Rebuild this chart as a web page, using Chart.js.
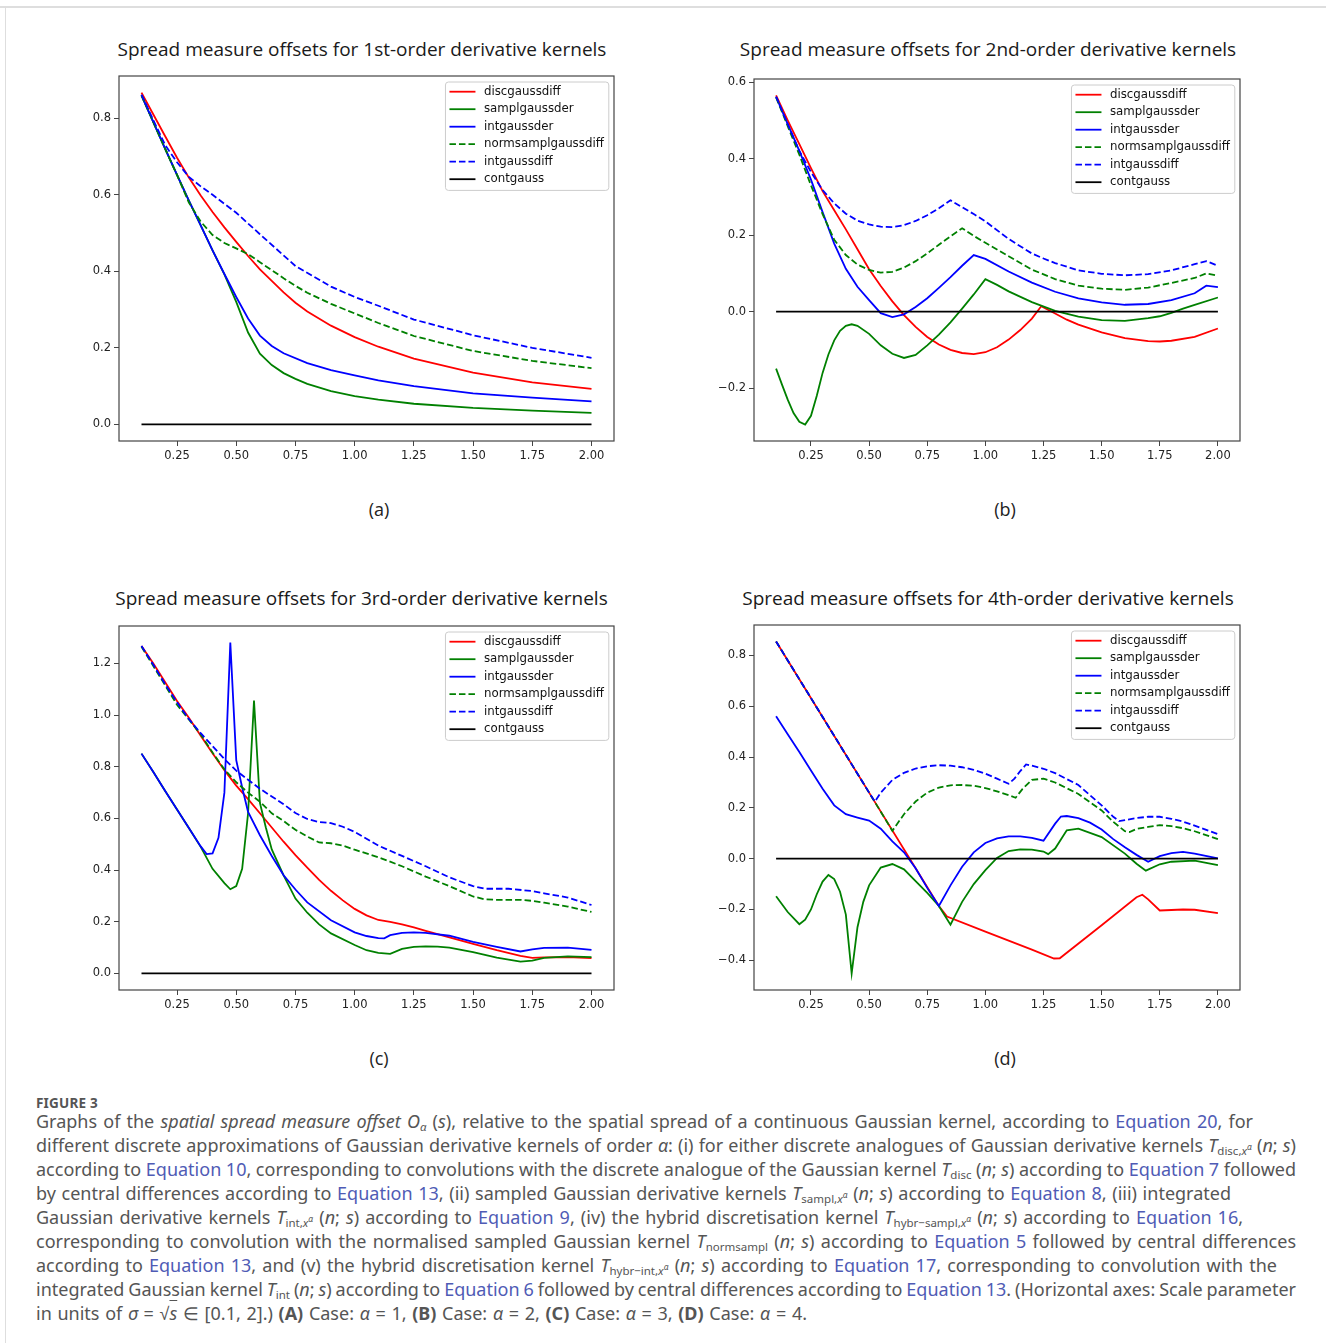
<!DOCTYPE html>
<html>
<head>
<meta charset="utf-8">
<script src="https://cdn.jsdelivr.net/npm/chart.js@4.4.0/dist/chart.umd.min.js"></script>
<style>
  body { margin: 0; background: #fff; width: 1326px; height: 1343px; position: relative; overflow: hidden; font-family: "Noto Sans", sans-serif; }
  .topline { position: absolute; left: 0; top: 6px; width: 1326px; height: 2px; background: #dedede; }
  .leftline { position: absolute; left: 5px; top: 7px; width: 1px; height: 1336px; background: #dedede; }
  canvas { position: absolute; }
  .ptitle { position: absolute; font-family: "Open Sans", sans-serif; font-size: 19px; color: #1a1a1a; white-space: nowrap; transform: translate(-50%, -50%); }
  .panel-label { position: absolute; font-family: "Open Sans", sans-serif; font-size: 18px; color: #222; transform: translate(-50%, -50%); }
  .fig { position: absolute; left: 36px; top: 1094px; font-size: 13.5px; font-weight: 700; color: #555; letter-spacing: 0.2px; }
  .cap { position: absolute; left: 36px; top: 1109px; font-size: 18px; line-height: 24px; color: #555; }
  .cap .ln { white-space: nowrap; height: 24px; }
  .cap a { color: #4f5bb5; text-decoration: none; }
  .cap sub { font-size: 11.5px; vertical-align: -3px; line-height: 0; }
  .cap sup { font-size: 8.5px; vertical-align: 5px; line-height: 0; }
</style>
</head>
<body>
<div class="topline"></div>
<div class="leftline"></div>

<div class="panel-label" style="left:379px; top:509px;">(a)</div>
<div class="panel-label" style="left:1005px; top:509px;">(b)</div>
<div class="panel-label" style="left:379px; top:1058px;">(c)</div>
<div class="panel-label" style="left:1005px; top:1058px;">(d)</div>

<div class="fig">FIGURE 3</div>
<div class="cap">
<div class="ln"><span>Graphs of the <i>spatial spread measure offset</i> <i>O</i><sub><i>α</i></sub> (<i>s</i>), relative to the spatial spread of a continuous Gaussian kernel, according to <a>Equation 20</a>, for</span></div>
<div class="ln"><span>different discrete approximations of Gaussian derivative kernels of order <i>α</i>: (i) for either discrete analogues of Gaussian derivative kernels <i>T</i><sub>disc,<i>x</i><sup><i>α</i></sup></sub> (<i>n</i>; <i>s</i>)</span></div>
<div class="ln"><span>according to <a>Equation 10</a>, corresponding to convolutions with the discrete analogue of the Gaussian kernel <i>T</i><sub>disc</sub> (<i>n</i>; <i>s</i>) according to <a>Equation 7</a> followed</span></div>
<div class="ln"><span>by central differences according to <a>Equation 13</a>, (ii) sampled Gaussian derivative kernels <i>T</i><sub>sampl,<i>x</i><sup><i>α</i></sup></sub> (<i>n</i>; <i>s</i>) according to <a>Equation 8</a>, (iii) integrated</span></div>
<div class="ln"><span>Gaussian derivative kernels <i>T</i><sub>int,<i>x</i><sup><i>α</i></sup></sub> (<i>n</i>; <i>s</i>) according to <a>Equation 9</a>, (iv) the hybrid discretisation kernel <i>T</i><sub>hybr−sampl,<i>x</i><sup><i>α</i></sup></sub> (<i>n</i>; <i>s</i>) according to <a>Equation 16</a>,</span></div>
<div class="ln"><span>corresponding to convolution with the normalised sampled Gaussian kernel <i>T</i><sub>normsampl</sub> (<i>n</i>; <i>s</i>) according to <a>Equation 5</a> followed by central differences</span></div>
<div class="ln"><span>according to <a>Equation 13</a>, and (v) the hybrid discretisation kernel <i>T</i><sub>hybr−int,<i>x</i><sup><i>α</i></sup></sub> (<i>n</i>; <i>s</i>) according to <a>Equation 17</a>, corresponding to convolution with the</span></div>
<div class="ln"><span>integrated Gaussian kernel <i>T</i><sub>int</sub> (<i>n</i>; <i>s</i>) according to <a>Equation 6</a> followed by central differences according to <a>Equation 13</a>. (Horizontal axes: Scale parameter</span></div>
<div class="ln"><span>in units of <i>σ</i> = √<span style="text-decoration:overline"><i>s</i></span> ∈ [0.1, 2].) <b>(A)</b> Case: <i>α</i> = 1, <b>(B)</b> Case: <i>α</i> = 2, <b>(C)</b> Case: <i>α</i> = 3, <b>(D)</b> Case: <i>α</i> = 4.</span></div>
</div>

<script>
const seriesNames = ["discgaussdiff", "samplgaussder", "intgaussder", "normsamplgaussdiff", "intgaussdiff", "contgauss"];
const seriesColors = ["#ff0000", "#008000", "#0000ff", "#008000", "#0000ff", "#000000"];
const seriesDashes = [[], [], [], [6.5, 3], [6.5, 3], []];

const titles = [
  "Spread measure offsets for 1st-order derivative kernels",
  "Spread measure offsets for 2nd-order derivative kernels",
  "Spread measure offsets for 3rd-order derivative kernels",
  "Spread measure offsets for 4th-order derivative kernels",
];

const xTicks = [0.25, 0.5, 0.75, 1.0, 1.25, 1.5, 1.75, 2.0];
const xTickLabels = ["0.25", "0.50", "0.75", "1.00", "1.25", "1.50", "1.75", "2.00"];

const yTicksA = [0, 0.2, 0.4, 0.6, 0.8];
const yLabelsA = ["0.0", "0.2", "0.4", "0.6", "0.8"];
const yTicksB = [-0.2, 0, 0.2, 0.4, 0.6];
const yLabelsB = ["\u22120.2", "0.0", "0.2", "0.4", "0.6"];
const yTicksC = [0, 0.2, 0.4, 0.6, 0.8, 1.0, 1.2];
const yLabelsC = ["0.0", "0.2", "0.4", "0.6", "0.8", "1.0", "1.2"];
const yTicksD = [-0.4, -0.2, 0, 0.2, 0.4, 0.6, 0.8];
const yLabelsD = ["\u22120.4", "\u22120.2", "0.0", "0.2", "0.4", "0.6", "0.8"];

// (a) first order
const discA = [[0.1,0.867],[0.15,0.81],[0.2,0.753],[0.25,0.697],[0.3,0.645],[0.35,0.598],[0.4,0.555],[0.45,0.515],[0.5,0.477],[0.55,0.44],[0.6,0.405],[0.65,0.375],[0.7,0.345],[0.75,0.318],[0.8,0.295],[0.9,0.258],[1.0,0.228],[1.1,0.203],[1.25,0.172],[1.5,0.135],[1.75,0.11],[2.0,0.093]];
const samplA = [[0.1,0.86],[0.15,0.79],[0.2,0.72],[0.25,0.652],[0.3,0.585],[0.35,0.52],[0.4,0.455],[0.45,0.392],[0.5,0.32],[0.55,0.24],[0.6,0.185],[0.65,0.155],[0.7,0.134],[0.75,0.119],[0.8,0.106],[0.9,0.087],[1.0,0.074],[1.1,0.065],[1.25,0.054],[1.5,0.043],[1.75,0.036],[2.0,0.03]];
const intA = [[0.1,0.86],[0.15,0.79],[0.2,0.72],[0.25,0.652],[0.3,0.585],[0.35,0.52],[0.4,0.455],[0.45,0.393],[0.5,0.333],[0.55,0.277],[0.6,0.232],[0.65,0.205],[0.7,0.186],[0.8,0.16],[0.9,0.142],[1.0,0.128],[1.1,0.115],[1.25,0.1],[1.5,0.081],[1.75,0.07],[2.0,0.06]];
const normA = [[0.1,0.86],[0.15,0.79],[0.2,0.72],[0.25,0.652],[0.3,0.58],[0.35,0.53],[0.4,0.495],[0.45,0.474],[0.5,0.46],[0.55,0.445],[0.6,0.424],[0.65,0.403],[0.7,0.382],[0.75,0.362],[0.8,0.344],[0.9,0.315],[1.0,0.29],[1.1,0.265],[1.25,0.231],[1.5,0.192],[1.75,0.166],[2.0,0.147]];
const intdiffA = [[0.1,0.862],[0.15,0.795],[0.2,0.73],[0.25,0.685],[0.3,0.647],[0.35,0.622],[0.4,0.6],[0.5,0.553],[0.6,0.497],[0.75,0.414],[0.9,0.36],[1.0,0.333],[1.1,0.31],[1.25,0.274],[1.5,0.233],[1.75,0.2],[2.0,0.174]];
const contA = [[0.1,0],[2.0,0]];

// (b) second order
const discB = [[0.1,0.565],[0.15,0.5],[0.2,0.438],[0.25,0.375],[0.3,0.315],[0.35,0.265],[0.4,0.215],[0.45,0.163],[0.5,0.111],[0.55,0.067],[0.6,0.027],[0.65,-0.009],[0.7,-0.04],[0.75,-0.066],[0.8,-0.086],[0.85,-0.1],[0.9,-0.108],[0.95,-0.111],[1.0,-0.106],[1.05,-0.093],[1.1,-0.073],[1.15,-0.048],[1.2,-0.018],[1.24,0.014],[1.3,-0.005],[1.35,-0.021],[1.4,-0.034],[1.5,-0.054],[1.6,-0.069],[1.7,-0.077],[1.75,-0.078],[1.8,-0.076],[1.9,-0.066],[2.0,-0.044]];
const samplB = [[0.1,-0.149],[0.125,-0.19],[0.15,-0.23],[0.175,-0.265],[0.2,-0.288],[0.225,-0.295],[0.25,-0.272],[0.275,-0.22],[0.3,-0.16],[0.325,-0.112],[0.35,-0.075],[0.375,-0.05],[0.4,-0.037],[0.425,-0.033],[0.45,-0.037],[0.5,-0.058],[0.55,-0.088],[0.6,-0.11],[0.65,-0.121],[0.7,-0.113],[0.75,-0.088],[0.8,-0.06],[0.85,-0.028],[0.9,0.008],[0.95,0.045],[1.0,0.085],[1.05,0.07],[1.1,0.053],[1.2,0.025],[1.3,0.002],[1.4,-0.013],[1.5,-0.022],[1.6,-0.024],[1.7,-0.017],[1.75,-0.012],[1.8,-0.003],[1.85,0.008],[1.9,0.018],[2.0,0.037]];
const intB = [[0.1,0.561],[0.15,0.49],[0.2,0.42],[0.25,0.345],[0.3,0.26],[0.35,0.178],[0.4,0.112],[0.45,0.065],[0.5,0.03],[0.55,-0.004],[0.6,-0.014],[0.65,-0.007],[0.7,0.012],[0.75,0.035],[0.8,0.062],[0.85,0.09],[0.9,0.12],[0.95,0.148],[1.0,0.138],[1.1,0.105],[1.2,0.076],[1.3,0.052],[1.4,0.035],[1.5,0.024],[1.6,0.018],[1.7,0.02],[1.8,0.03],[1.9,0.048],[1.95,0.068],[2.0,0.064]];
const normB = [[0.1,0.56],[0.15,0.485],[0.2,0.41],[0.25,0.33],[0.3,0.255],[0.35,0.188],[0.4,0.148],[0.45,0.123],[0.5,0.109],[0.55,0.102],[0.6,0.104],[0.65,0.115],[0.7,0.132],[0.75,0.152],[0.8,0.175],[0.85,0.197],[0.9,0.218],[0.95,0.198],[1.0,0.18],[1.1,0.145],[1.2,0.11],[1.3,0.085],[1.4,0.068],[1.5,0.06],[1.6,0.057],[1.7,0.063],[1.8,0.075],[1.9,0.088],[1.95,0.1],[2.0,0.094]];
const intdiffB = [[0.1,0.562],[0.15,0.49],[0.2,0.42],[0.25,0.365],[0.3,0.318],[0.35,0.283],[0.4,0.256],[0.45,0.238],[0.5,0.228],[0.55,0.222],[0.6,0.221],[0.65,0.226],[0.7,0.237],[0.75,0.252],[0.8,0.27],[0.85,0.291],[0.9,0.273],[0.95,0.255],[1.0,0.236],[1.1,0.19],[1.2,0.152],[1.25,0.139],[1.3,0.127],[1.4,0.108],[1.5,0.099],[1.6,0.095],[1.7,0.098],[1.8,0.108],[1.9,0.124],[1.95,0.132],[2.0,0.12]];
const contB = [[0.1,0],[2.0,0]];

// (c) third order
const discC = [[0.1,1.268],[0.15,1.2],[0.2,1.127],[0.25,1.055],[0.3,0.99],[0.35,0.92],[0.4,0.852],[0.45,0.787],[0.5,0.727],[0.55,0.675],[0.6,0.62],[0.65,0.565],[0.7,0.51],[0.75,0.458],[0.8,0.41],[0.85,0.362],[0.9,0.32],[0.95,0.283],[1.0,0.25],[1.05,0.225],[1.1,0.207],[1.15,0.2],[1.2,0.19],[1.25,0.178],[1.3,0.165],[1.4,0.14],[1.5,0.115],[1.6,0.09],[1.7,0.068],[1.75,0.06],[1.8,0.062],[1.9,0.063],[2.0,0.059]];
const samplC = [[0.1,0.851],[0.15,0.78],[0.2,0.706],[0.25,0.635],[0.3,0.563],[0.35,0.49],[0.4,0.405],[0.45,0.35],[0.475,0.326],[0.5,0.338],[0.525,0.405],[0.55,0.62],[0.575,1.056],[0.6,0.66],[0.625,0.565],[0.65,0.48],[0.7,0.38],[0.75,0.29],[0.8,0.235],[0.85,0.19],[0.9,0.155],[1.0,0.11],[1.05,0.09],[1.1,0.08],[1.15,0.076],[1.2,0.095],[1.25,0.103],[1.3,0.105],[1.35,0.104],[1.4,0.1],[1.5,0.083],[1.6,0.061],[1.7,0.046],[1.75,0.05],[1.8,0.06],[1.9,0.066],[2.0,0.063]];
const intC = [[0.1,0.851],[0.15,0.78],[0.2,0.706],[0.25,0.635],[0.3,0.563],[0.35,0.492],[0.375,0.462],[0.4,0.465],[0.425,0.525],[0.45,0.7],[0.475,1.281],[0.5,0.826],[0.525,0.72],[0.55,0.625],[0.6,0.535],[0.65,0.455],[0.7,0.38],[0.75,0.325],[0.8,0.275],[0.9,0.206],[1.0,0.159],[1.05,0.145],[1.1,0.137],[1.125,0.136],[1.15,0.148],[1.2,0.157],[1.25,0.159],[1.3,0.157],[1.4,0.146],[1.5,0.122],[1.6,0.103],[1.7,0.085],[1.75,0.093],[1.8,0.099],[1.9,0.1],[2.0,0.091]];
const normC = [[0.1,1.265],[0.15,1.19],[0.2,1.115],[0.25,1.04],[0.3,0.983],[0.35,0.925],[0.4,0.855],[0.45,0.79],[0.5,0.74],[0.55,0.7],[0.6,0.665],[0.65,0.62],[0.7,0.59],[0.75,0.556],[0.8,0.53],[0.85,0.507],[0.9,0.504],[0.95,0.495],[1.0,0.479],[1.1,0.45],[1.2,0.415],[1.3,0.375],[1.4,0.338],[1.5,0.298],[1.55,0.287],[1.6,0.285],[1.7,0.285],[1.75,0.281],[1.8,0.274],[1.9,0.259],[2.0,0.238]];
const intdiffC = [[0.1,1.268],[0.15,1.195],[0.2,1.12],[0.25,1.05],[0.3,0.985],[0.35,0.93],[0.4,0.88],[0.45,0.83],[0.5,0.785],[0.55,0.75],[0.6,0.715],[0.65,0.685],[0.7,0.655],[0.75,0.621],[0.8,0.598],[0.85,0.586],[0.9,0.582],[0.95,0.568],[1.0,0.548],[1.1,0.495],[1.2,0.455],[1.3,0.415],[1.4,0.372],[1.5,0.338],[1.55,0.328],[1.65,0.328],[1.75,0.319],[1.8,0.31],[1.9,0.294],[2.0,0.265]];
const contC = [[0.1,0],[2.0,0]];

// (d) fourth order
const discD = [[0.1,0.855],[0.3,0.558],[0.5,0.26],[0.7,-0.038],[0.8,-0.186],[0.835,-0.228],[1.0,-0.287],[1.2,-0.358],[1.295,-0.393],[1.32,-0.392],[1.5,-0.262],[1.65,-0.152],[1.675,-0.142],[1.7,-0.16],[1.75,-0.204],[1.8,-0.202],[1.85,-0.2],[1.9,-0.201],[2.0,-0.214]];
const samplD = [[0.1,-0.148],[0.15,-0.21],[0.2,-0.258],[0.225,-0.24],[0.25,-0.2],[0.275,-0.14],[0.3,-0.09],[0.325,-0.064],[0.35,-0.08],[0.375,-0.13],[0.4,-0.22],[0.425,-0.452],[0.45,-0.27],[0.475,-0.17],[0.5,-0.105],[0.55,-0.035],[0.6,-0.021],[0.65,-0.042],[0.7,-0.088],[0.75,-0.135],[0.8,-0.186],[0.85,-0.26],[0.9,-0.17],[0.95,-0.1],[1.0,-0.045],[1.05,0.003],[1.1,0.03],[1.15,0.037],[1.2,0.036],[1.25,0.028],[1.27,0.018],[1.3,0.04],[1.35,0.112],[1.4,0.118],[1.5,0.085],[1.6,0.02],[1.65,-0.02],[1.69,-0.047],[1.75,-0.022],[1.8,-0.012],[1.9,-0.008],[2.0,-0.025]];
const intD = [[0.1,0.561],[0.15,0.49],[0.2,0.42],[0.25,0.347],[0.3,0.275],[0.35,0.21],[0.4,0.175],[0.45,0.162],[0.5,0.15],[0.55,0.118],[0.6,0.068],[0.65,0.025],[0.7,-0.038],[0.75,-0.115],[0.8,-0.186],[0.85,-0.105],[0.9,-0.032],[0.95,0.025],[1.0,0.062],[1.05,0.08],[1.1,0.088],[1.15,0.088],[1.2,0.082],[1.25,0.071],[1.3,0.138],[1.325,0.166],[1.35,0.168],[1.4,0.16],[1.45,0.142],[1.5,0.115],[1.55,0.077],[1.6,0.045],[1.65,0.015],[1.7,-0.012],[1.75,0.01],[1.8,0.022],[1.85,0.027],[1.9,0.02],[2.0,0.001]];
const normD = [[0.1,0.855],[0.3,0.558],[0.5,0.26],[0.6,0.11],[0.65,0.175],[0.7,0.225],[0.75,0.26],[0.8,0.28],[0.85,0.289],[0.9,0.29],[0.95,0.287],[1.0,0.278],[1.05,0.265],[1.1,0.25],[1.13,0.24],[1.16,0.275],[1.2,0.31],[1.25,0.315],[1.3,0.3],[1.4,0.255],[1.5,0.19],[1.55,0.145],[1.6,0.108],[1.62,0.105],[1.65,0.117],[1.7,0.125],[1.75,0.132],[1.8,0.128],[1.85,0.12],[1.9,0.108],[2.0,0.077]];
const intdiffD = [[0.1,0.855],[0.3,0.558],[0.5,0.26],[0.525,0.225],[0.55,0.26],[0.6,0.31],[0.65,0.338],[0.7,0.355],[0.75,0.364],[0.8,0.368],[0.85,0.366],[0.9,0.36],[0.95,0.35],[1.0,0.335],[1.05,0.315],[1.1,0.295],[1.125,0.315],[1.15,0.345],[1.175,0.371],[1.2,0.366],[1.25,0.354],[1.3,0.337],[1.4,0.29],[1.5,0.21],[1.55,0.165],[1.575,0.148],[1.6,0.152],[1.65,0.16],[1.7,0.165],[1.75,0.165],[1.8,0.157],[1.85,0.146],[1.9,0.13],[2.0,0.097]];
const contD = [[0.1,0],[2.0,0]];

// plot boxes in page pixels, title centres
const panels = [
  { series: [discA, samplA, intA, normA, intdiffA, contA], yMin: -0.0434, yMax: 0.9105, yTicks: yTicksA, yLabels: yLabelsA,
    plot: { left: 119, right: 613.5, top: 76, bottom: 441 }, titleAt: [362, 49] },
  { series: [discB, samplB, intB, normB, intdiffB, contB], yMin: -0.338, yMax: 0.608, yTicks: yTicksB, yLabels: yLabelsB,
    plot: { left: 754, right: 1239.5, top: 79, bottom: 441 }, titleAt: [988, 49] },
  { series: [discC, samplC, intC, normC, intdiffC, contC], yMin: -0.064, yMax: 1.345, yTicks: yTicksC, yLabels: yLabelsC,
    plot: { left: 119, right: 613.5, top: 626, bottom: 990 }, titleAt: [361.5, 598] },
  { series: [discD, samplD, intD, normD, intdiffD, contD], yMin: -0.517, yMax: 0.92, yTicks: yTicksD, yLabels: yLabelsD,
    plot: { left: 754, right: 1239.5, top: 625, bottom: 990 }, titleAt: [988, 598] },
];

const captionEnds = [1253, 1296, 1296, 1231, 1243, 1296, 1277, 1296, 807];

const Y_AXIS_W = 79;
const X_AXIS_H = 30;
const PAD = 12;
const tickFont = { family: "DejaVu Sans", size: 11.5 };
const axisColor = "#444";

// matplotlib-style box around the axes
const framePlugin = {
  id: "frame",
  afterDatasetsDraw(chart) {
    const { ctx, chartArea: a } = chart;
    ctx.save();
    ctx.strokeStyle = axisColor;
    ctx.lineWidth = 1.2;
    ctx.strokeRect(a.left, a.top, a.right - a.left, a.bottom - a.top);
    ctx.restore();
  },
};

// legend drawn inside the upper right corner of the axes
const innerLegendPlugin = {
  id: "innerLegend",
  afterDraw(chart) {
    const { ctx, chartArea: a } = chart;
    const sets = chart.data.datasets;
    ctx.save();
    ctx.font = '11.8px "DejaVu Sans"';
    const textW = Math.max(...sets.map((d) => ctx.measureText(d.label).width));
    const w = 38.5 + textW + 5;
    const h = 108.4;
    const x0 = a.right - 5.2 - w;
    const y0 = a.top + 6;
    ctx.beginPath();
    ctx.roundRect(x0, y0, w, h, 3);
    ctx.fillStyle = "rgba(255,255,255,0.8)";
    ctx.fill();
    ctx.strokeStyle = "#cccccc";
    ctx.lineWidth = 1;
    ctx.stroke();
    sets.forEach((d, i) => {
      const cy = y0 + 9.7 + i * 17.5;
      ctx.beginPath();
      ctx.setLineDash(d.borderDash);
      ctx.strokeStyle = d.borderColor;
      ctx.lineWidth = d.borderWidth;
      ctx.moveTo(x0 + 4, cy);
      ctx.lineTo(x0 + 30, cy);
      ctx.stroke();
      ctx.setLineDash([]);
      ctx.fillStyle = "#111";
      ctx.textBaseline = "middle";
      ctx.fillText(d.label, x0 + 38.5, cy);
    });
    ctx.restore();
  },
};

const get_datasets = (series) =>
  series.map((points, i) => ({
    label: seriesNames[i],
    data: points.map(([x, y]) => ({ x, y })),
    borderColor: seriesColors[i],
    borderDash: seriesDashes[i],
    borderWidth: 1.8,
    pointRadius: 0,
    tension: 0,
    fill: false,
    order: -i,
  }));

const get_chart_config = (p) => ({
  type: "line",
  data: { datasets: get_datasets(p.series) },
  options: {
    responsive: false,
    animation: false,
    devicePixelRatio: 1,
    layout: { padding: { left: 0, right: PAD, top: PAD, bottom: 0 } },
    plugins: {
      legend: { display: false },
      tooltip: { enabled: false },
      title: { display: false },
    },
    scales: {
      x: {
        type: "linear",
        min: 0.005,
        max: 2.095,
        afterBuildTicks: (s) => { s.ticks = xTicks.map((v) => ({ value: v })); },
        afterFit: (s) => { s.height = X_AXIS_H; },
        ticks: { callback: (v, i) => xTickLabels[i], font: tickFont, color: "#222", padding: 3, maxRotation: 0, autoSkip: false },
        grid: { drawOnChartArea: false, drawTicks: true, tickLength: 5, color: axisColor, lineWidth: 1 },
        border: { display: false },
      },
      y: {
        type: "linear",
        min: p.yMin,
        max: p.yMax,
        afterBuildTicks: (s) => { s.ticks = p.yTicks.map((v) => ({ value: v })); },
        afterFit: (s) => { s.width = Y_AXIS_W; },
        ticks: { callback: (v, i) => p.yLabels[i], font: tickFont, color: "#222", padding: 3, autoSkip: false },
        grid: { drawOnChartArea: false, drawTicks: true, tickLength: 5, color: axisColor, lineWidth: 1 },
        border: { display: false },
      },
    },
  },
  plugins: [framePlugin, innerLegendPlugin],
});

const draw_title = (p, i) => {
  const t = document.createElement("div");
  t.className = "ptitle";
  t.textContent = titles[i];
  t.style.left = p.titleAt[0] + "px";
  t.style.top = p.titleAt[1] + "px";
  document.body.appendChild(t);
};

const draw_panel = (p, i) => {
  const left = p.plot.left - Y_AXIS_W;
  const top = p.plot.top - PAD;
  const canvas = document.createElement("canvas");
  canvas.width = Math.round(p.plot.right + PAD - left);
  canvas.height = Math.round(p.plot.bottom + X_AXIS_H - top);
  canvas.style.left = left + "px";
  canvas.style.top = top + "px";
  document.body.appendChild(canvas);
  draw_title(p, i);
  return new Chart(canvas, get_chart_config(p));
};

// stretch or squeeze word gaps so every caption line ends where the original does
const fit_caption = () => {
  document.querySelectorAll(".cap .ln > span").forEach((span, i) => {
    span.style.wordSpacing = "0px";
    const r = span.getBoundingClientRect();
    const gaps = (span.textContent.trim().match(/ /g) || []).length;
    if (gaps) span.style.wordSpacing = (captionEnds[i] - r.right) / gaps + "px";
  });
};

panels.forEach(draw_panel);
fit_caption();
document.fonts.ready.then(fit_caption);
</script>
</body>
</html>
